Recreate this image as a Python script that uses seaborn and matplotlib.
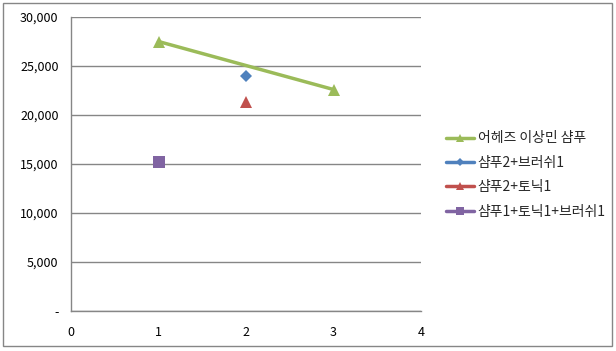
import matplotlib.pyplot as plt
import matplotlib.patches as patches
from matplotlib.ticker import FuncFormatter
import numpy as np
import pandas as pd
import seaborn as sns

#%% Data
green_x = [1, 3]
green_y = [27500, 22600]
blue_x = [2]
blue_y = [24000]
red_x = [2]
red_y = [21300]
purple_x = [1]
purple_y = [15200]

labels = ['어헤즈 이상민 샴푸', '샴푸2+브러쉬1', '샴푸2+토닉1', '샴푸1+토닉1+브러쉬1']
colors = ['#9BBB59', '#4F81BD', '#C0504D', '#8064A2']
markers = ['^', 'D', '^', 's']

#%% Figure
sns.set_style("white")
plt.rcParams['font.family'] = ['Noto Sans CJK KR', 'DejaVu Sans']

fig = plt.figure(figsize=(6.16, 3.51), dpi=100)
ax = fig.add_axes([71/616, 1 - 311/351, 350/616, 294/351])

sns.lineplot(x=green_x, y=green_y, ax=ax, color=colors[0], linewidth=2.5,
             marker=markers[0], markersize=8, markeredgewidth=0, label=labels[0])
series = [(blue_x, blue_y), (red_x, red_y), (purple_x, purple_y)]
for (xs, ys), lab, col, mk, ms in zip(series, labels[1:], colors[1:], markers[1:], [6, 8, 8]):
    sns.lineplot(x=xs, y=ys, ax=ax, color=col, linewidth=2.5, marker=mk,
                 markersize=ms, markeredgewidth=0, label=lab)

ax.set_xlim(0, 4)
ax.set_ylim(0, 30000)
ax.set_xticks(np.arange(0, 5, 1))
ax.set_yticks(np.arange(0, 30001, 5000))
ax.yaxis.set_major_formatter(FuncFormatter(lambda v, p: '-' if v == 0 else f'{int(v):,}'))
ax.grid(axis='y', color='#868686', linewidth=1)
ax.grid(axis='x', visible=False)
ax.set_axisbelow(True)

for s in ['top', 'right']:
    ax.spines[s].set_visible(False)
for s in ['left', 'bottom']:
    ax.spines[s].set_color('#868686')
    ax.spines[s].set_linewidth(1)
ax.tick_params(axis='both', direction='out', length=5, color='#868686', width=1,
               labelsize=9, labelcolor='black', pad=6)
ax.tick_params(axis='y', pad=4)
ax.set_xlabel('')
ax.set_ylabel('')

ax.legend_.remove()
handles, leg_labels = ax.get_legend_handles_labels()
fig.legend(handles, leg_labels, loc='center left', bbox_to_anchor=(439/616, 1 - 175/351),
           frameon=False, fontsize=10, handlelength=2.0, handletextpad=0.3,
           labelspacing=0.75, borderpad=0, markerscale=0.7)

# chart area border
fig.patches.append(patches.Rectangle((3/616, 5/351), 609/616, 343/351, transform=fig.transFigure,
                                     fill=False, edgecolor='#868686', linewidth=1))

fig.savefig('out.png', dpi=100, facecolor='white')
